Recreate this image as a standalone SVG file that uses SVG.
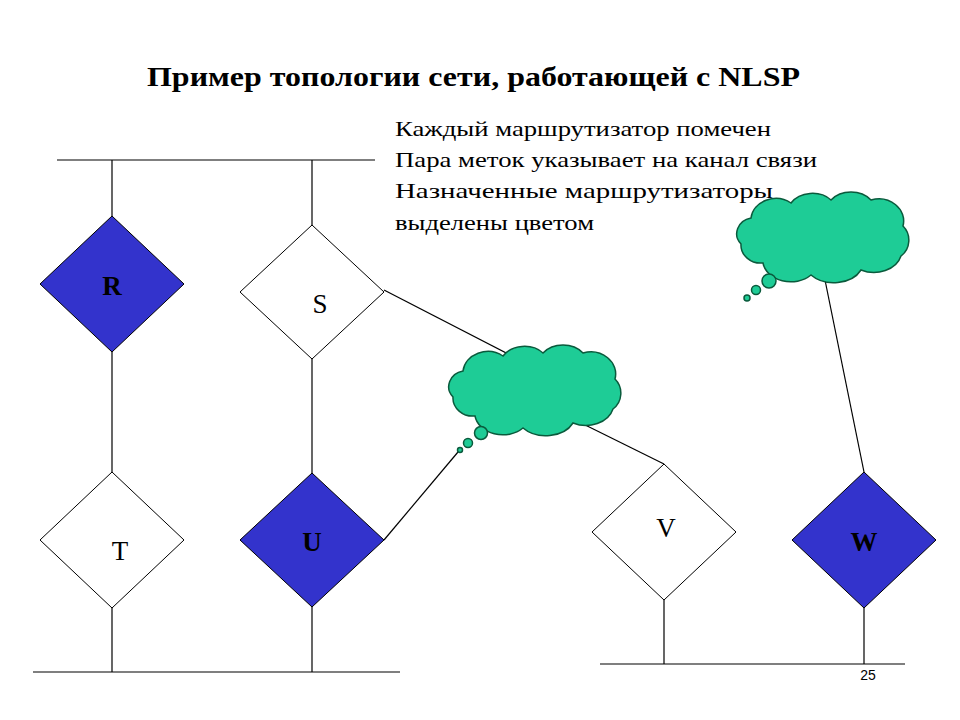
<svg xmlns="http://www.w3.org/2000/svg" xmlns:xlink="http://www.w3.org/1999/xlink" width="960" height="720" viewBox="0 0 960 720">
<style>
.ln{stroke:#000;stroke-width:1.2;fill:none}
.blue{fill:#3333CC;stroke:#000;stroke-width:1}
.white{fill:#fff;stroke:#000;stroke-width:1}
.cl{fill:#1ECC96;stroke:#0a5a3c;stroke-width:1.5}
.t{font-family:"Liberation Serif",serif;font-size:22px}
.lbl{font-family:"Liberation Serif",serif;font-size:27px;text-anchor:middle}
</style>
<defs>
<path id="cloud" d="M20,30 A25,22 0 0 1 60,15 A25,20 0 0 1 100,12 A25,20 0 0 1 140,12 A25,22 0 0 1 172,38 A20,20 0 0 1 170,68 A28,22 0 0 1 130,82 A30,22 0 0 1 80,87 A28,22 0 0 1 32,75 A20,18 0 0 1 10,56 A18,16 0 0 1 20,30 Z"/>
</defs>
<rect width="960" height="720" fill="#fff"/>
<text x="147" y="86" textLength="653" lengthAdjust="spacingAndGlyphs" font-family="Liberation Serif,serif" font-size="27" font-weight="bold">Пример топологии сети, работающей с NLSP</text>
<g class="t">
<text x="395" y="136" textLength="376" lengthAdjust="spacingAndGlyphs">Каждый маршрутизатор помечен</text>
<text x="395" y="167" textLength="422" lengthAdjust="spacingAndGlyphs">Пара меток указывает на канал связи</text>
<text x="395" y="198" textLength="378" lengthAdjust="spacingAndGlyphs">Назначенные маршрутизаторы</text>
<text x="395" y="230" textLength="199" lengthAdjust="spacingAndGlyphs">выделены цветом</text>
</g>
<g id="connectors" class="ln">
<line x1="57" y1="160" x2="375" y2="160"/>
<line x1="33" y1="672" x2="400" y2="672"/>
<line x1="600" y1="664" x2="905" y2="664"/>
<line x1="112" y1="160" x2="112" y2="672"/>
<line x1="312" y1="160" x2="312" y2="672"/>
<line x1="664" y1="532" x2="664" y2="664"/>
<line x1="864" y1="540" x2="864" y2="664"/>
<line x1="384" y1="290" x2="510" y2="355"/>
<line x1="565" y1="415" x2="664" y2="464"/>
<line x1="384" y1="540" x2="458" y2="452"/>
<line x1="864" y1="472" x2="825" y2="280"/>
</g>
<g id="cloud1">
<use xlink:href="#cloud" class="cl" transform="translate(443,341)"/>
<circle cx="481" cy="433" r="6.5" class="cl"/><circle cx="468" cy="443" r="4.5" class="cl"/><circle cx="460" cy="450" r="2.5" class="cl"/>
</g>
<g id="cloud2">
<use xlink:href="#cloud" class="cl" transform="translate(731,188)"/>
<circle cx="769" cy="281" r="7" class="cl"/><circle cx="756" cy="290" r="4.5" class="cl"/><circle cx="747" cy="298" r="3" class="cl"/>
</g>
<g id="R"><polygon class="blue" points="112,216 184,284 112,352 40,284"/><text class="lbl" x="112" y="295" font-weight="bold">R</text></g>
<g id="S"><polygon class="white" points="312,225 384,292 312,359 240,292"/><text class="lbl" x="320" y="313">S</text></g>
<g id="T"><polygon class="white" points="112,472 184,540 112,608 40,540"/><text class="lbl" x="120" y="560">T</text></g>
<g id="U"><polygon class="blue" points="312,473 384,540 312,607 240,540"/><text class="lbl" x="312" y="551" font-weight="bold">U</text></g>
<g id="V"><polygon class="white" points="664,464 736,532 664,600 592,532"/><text class="lbl" x="666" y="537">V</text></g>
<g id="W"><polygon class="blue" points="864,472 936,540 864,608 792,540"/><text class="lbl" x="864" y="551" font-weight="bold">W</text></g>
<text x="868" y="680" text-anchor="middle" font-family="Liberation Sans,sans-serif" font-size="14">25</text>
</svg>
